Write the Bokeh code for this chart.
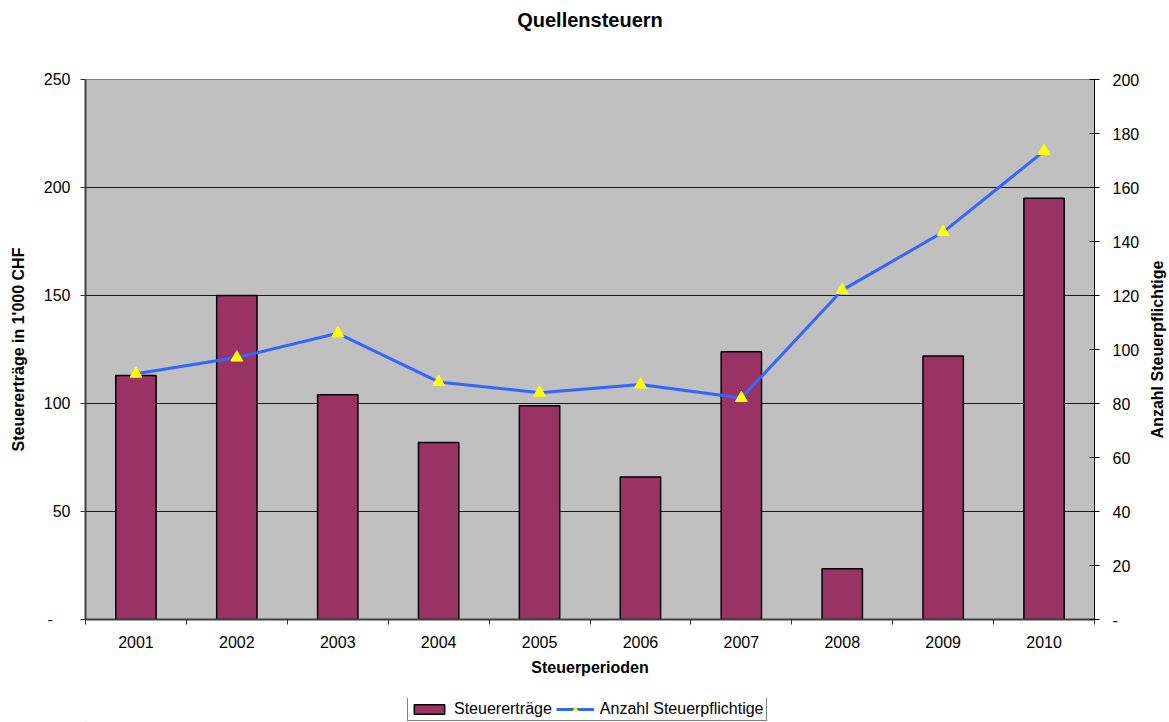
from bokeh.plotting import figure
from bokeh.layouts import column, row
from bokeh.models import (Range1d, LinearAxis, FixedTicker, Legend, LegendItem,
                          ColumnDataSource, Title)
from bokeh.embed import file_html
from bokeh.resources import INLINE

# ---- data ----
years = ["2001", "2002", "2003", "2004", "2005", "2006", "2007", "2008", "2009", "2010"]
ertraege = [113, 150, 104, 82, 99, 66, 124, 23.5, 122, 195]          # Steuererträge (1'000 CHF)
anzahl = [91, 97, 106, 88, 84, 87, 82, 122, 143.5, 173.5]             # Anzahl Steuerpflichtige
left_ticks = [0, 50, 100, 150, 200, 250]
right_ticks = [0, 20, 40, 60, 80, 100, 120, 140, 160, 180, 200]
series_names = ["Steuererträge", "Anzahl Steuerpflichtige"]

FONT = "Liberation Sans"
BAR_COLOR = "#993366"
LINE_COLOR = "#3366FF"
MARK_COLOR = "#FFFF00"
n = len(years)
xpos = list(range(1, n + 1))
src = ColumnDataSource(dict(x=xpos, e=ertraege, a=anzahl))

FW, FH = 1009, 540
BL, BR, BT, BB = 85, 47, 79, 79

p = figure(frame_width=FW, frame_height=FH, x_range=Range1d(0.5, n + 0.5), y_range=Range1d(0, 250),
           output_backend="svg", toolbar_location=None,
           min_border_left=BL, min_border_right=BR, min_border_top=BT, min_border_bottom=BB)
p.extra_y_ranges = {"n": Range1d(0, 200)}

p.background_fill_color = "#C0C0C0"
p.border_fill_color = "white"
p.outline_line_color = "#808080"
p.outline_line_width = 1

# spacer between frame and title (title is outermost)
p.add_layout(Title(text=" ", text_font_size="1px", standoff=41), "above")

# title
p.title.text = "Quellensteuern"
p.title.text_font = FONT
p.title.text_font_size = "20px"
p.title.text_font_style = "bold"
p.title.align = "center"
p.title.text_color = "black"
p.title.standoff = 10

# grids
p.xgrid.visible = False
p.ygrid.grid_line_color = "#1a1a1a"
p.ygrid.grid_line_width = 1

# bottom axis
xa = p.xaxis[0]
xa.ticker = FixedTicker(ticks=xpos, minor_ticks=[i + 0.5 for i in range(n + 1)])
xa.major_label_overrides = {x: y for x, y in zip(xpos, years)}
xa.major_tick_out = 0
xa.major_tick_in = 0
xa.minor_tick_out = 5
xa.minor_tick_in = 0
xa.minor_tick_line_color = "#333333"
xa.axis_line_color = "#404040"
xa.axis_line_width = 2
xa.major_label_standoff = 11
xa.major_label_text_font = FONT
xa.major_label_text_font_size = "16px"
xa.major_label_text_color = "black"
xa.axis_label = "Steuerperioden"
xa.axis_label_text_font = FONT
xa.axis_label_text_font_size = "16px"
xa.axis_label_text_font_style = "bold"
xa.axis_label_text_color = "black"
xa.axis_label_standoff = 8

# left axis
ya = p.yaxis[0]
ya.ticker = FixedTicker(ticks=left_ticks)
ya.major_label_overrides = {0: "-\u00a0\u00a0\u00a0\u00a0"}
ya.minor_tick_line_color = None
ya.major_tick_out = 5
ya.major_tick_in = 0
ya.major_tick_line_color = "#333333"
ya.axis_line_color = "#404040"
ya.axis_line_width = 2
ya.major_label_standoff = 10
ya.major_label_text_font = FONT
ya.major_label_text_font_size = "16px"
ya.major_label_text_color = "black"
ya.axis_label = "Steuererträge in 1'000 CHF"
ya.axis_label_text_font = FONT
ya.axis_label_text_font_size = "16px"
ya.axis_label_text_font_style = "bold"
ya.axis_label_text_color = "black"
ya.axis_label_standoff = 14

# right axis (its title is drawn in the side strip so that it reads bottom-to-top)
ra = LinearAxis(y_range_name="n", ticker=FixedTicker(ticks=right_ticks),
                major_label_overrides={0: "-"})
ra.minor_tick_line_color = None
ra.major_tick_out = 5
ra.major_tick_in = 5
ra.axis_line_color = "black"
ra.axis_line_width = 1
ra.major_label_standoff = 13
ra.major_label_text_font = FONT
ra.major_label_text_font_size = "16px"
ra.major_label_text_color = "black"
p.add_layout(ra, "right")

# glyphs
bars = p.vbar(x="x", top="e", width=0.4, bottom=0, source=src,
              fill_color=BAR_COLOR, line_color="black", line_width=1.5)
ln = p.line(x="x", y="a", source=src, y_range_name="n", line_color=LINE_COLOR, line_width=3)
pts = p.scatter(x="x", y="a", source=src, y_range_name="n", marker="triangle", size=12,
                fill_color=MARK_COLOR, line_color=MARK_COLOR)

# ---- side strip with the right axis title ----
side = figure(width=27, height=BT + FH + BB, x_range=Range1d(0, 1), y_range=Range1d(0, 1),
              output_backend="svg", toolbar_location=None, min_border=0,
              x_axis_location=None, y_axis_location=None)
side.grid.visible = False
side.outline_line_color = None
side.background_fill_color = "white"
side.border_fill_color = "white"
side.add_layout(Title(text=series_names[1], align="center", standoff=8,
                      text_font=FONT, text_font_size="16px", text_font_style="bold",
                      text_color="black"), "left")

# ---- legend strip below the chart ----
lg = figure(frame_width=FW, frame_height=23, x_range=Range1d(0, 1), y_range=Range1d(0, 1),
            output_backend="svg", toolbar_location=None,
            min_border_left=BL, min_border_right=0, min_border_top=0, min_border_bottom=0,
            x_axis_location=None, y_axis_location=None)
lg.grid.visible = False
lg.outline_line_color = None
lg.background_fill_color = "white"
lg.border_fill_color = "white"
helper = ColumnDataSource(dict(x=[-5], y=[-5]))   # off-screen helper, only feeds the legend swatches
lb = lg.vbar(x="x", top="y", width=0.4, source=helper,
             fill_color=BAR_COLOR, line_color="black", line_width=1.5)
ll = lg.line(x="x", y="y", source=helper, line_color=LINE_COLOR, line_width=3)
lp = lg.scatter(x="x", y="y", source=helper, marker="triangle", size=12,
                fill_color=MARK_COLOR, line_color=MARK_COLOR)

legend = Legend(items=[LegendItem(label=series_names[0], renderers=[lb]),
                       LegendItem(label=series_names[1], renderers=[ll, lp])],
                orientation="horizontal", location=(322, 0))
legend.label_text_font = FONT
legend.label_text_font_size = "16px"
legend.label_text_color = "black"
legend.border_line_color = "black"
legend.border_line_width = 1
legend.glyph_width = 38
legend.glyph_height = 12
legend.label_standoff = 6
legend.spacing = 4
legend.padding = 2
legend.margin = 0
legend.label_height = 16
legend.background_fill_color = "white"
lg.add_layout(legend, "center")

open("out.html", "w").write(file_html(column(row(p, side), lg), INLINE))
